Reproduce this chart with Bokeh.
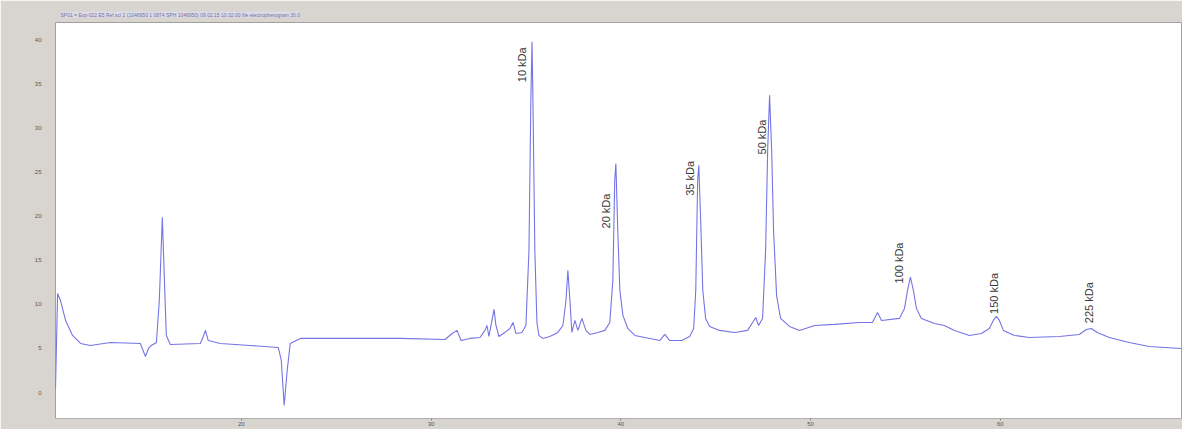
from bokeh.plotting import figure
from bokeh.models import ColumnDataSource, Range1d, FixedTicker, Title
from bokeh.core.properties import value
from bokeh.embed import file_html
from bokeh.resources import INLINE
import math

# migration time (s) and fluorescence signal
time = [10.21, 10.32, 10.47, 10.74, 11.11, 11.53, 12.05, 13.11, 14.68, 14.95, 15.11, 15.26, 15.53,
        15.68, 15.84, 15.95, 16.05, 16.26, 17.84, 18.0, 18.11, 18.26, 18.89, 20.47, 21.95, 22.11,
        22.26, 22.42, 22.58, 23.11, 25.74, 28.37, 30.74, 31.11, 31.37, 31.58, 32.05, 32.58, 32.84,
        32.95, 33.05, 33.21, 33.32, 33.42, 33.58, 33.89, 34.16, 34.32, 34.47, 34.79, 35.0, 35.16,
        35.26, 35.32, 35.37, 35.47, 35.58, 35.68, 35.89, 36.26, 36.68, 36.95, 37.11, 37.21, 37.32,
        37.42, 37.58, 37.74, 37.95, 38.16, 38.37, 38.79, 39.16, 39.42, 39.58, 39.68, 39.74, 39.84,
        39.95, 40.11, 40.37, 40.74, 41.53, 42.05, 42.32, 42.58, 43.21, 43.63, 43.84, 43.95, 44.05,
        44.11, 44.21, 44.32, 44.47, 44.68, 45.21, 46.0, 46.68, 46.95, 47.11, 47.26, 47.47, 47.63,
        47.74, 47.84, 47.95, 48.05, 48.21, 48.42, 48.89, 49.42, 50.21, 51.26, 52.58, 53.26, 53.53,
        53.74, 54.68, 54.95, 55.11, 55.26, 55.42, 55.58, 55.84, 56.53, 57.05, 57.58, 58.37, 59.0,
        59.42, 59.63, 59.79, 59.95, 60.16, 60.74, 61.53, 63.11, 64.16, 64.53, 64.79, 65.11, 65.74,
        66.79, 67.84, 69.53]
signal = [0.45, 11.25, 10.45, 8.18, 6.48, 5.57, 5.34, 5.68, 5.57, 4.09, 5.0, 5.34, 5.68,
          10.45, 19.89, 12.7, 6.48, 5.45, 5.57, 6.36, 7.05, 5.9, 5.57, 5.34, 5.11, 3.64,
          -1.48, 2.5, 5.57, 6.14, 6.14, 6.14, 6.02, 6.7, 7.05, 5.9, 6.14, 6.25, 7.05,
          7.61, 6.36, 8.18, 9.43, 7.61, 6.36, 6.82, 7.27, 7.95, 6.7, 6.82, 7.61, 16.1,
          33.2, 39.8, 33.2, 16.1, 7.95, 6.48, 6.14, 6.36, 6.82, 7.61, 10.45, 13.86, 10.45,
          6.82, 8.18, 7.05, 8.41, 7.05, 6.59, 6.82, 7.05, 7.95, 12.7, 24.1, 26.0, 18.4,
          11.6, 8.75, 7.27, 6.48, 6.14, 5.9, 6.59, 5.9, 5.9, 6.36, 7.27, 11.6, 24.1,
          25.8, 19.5, 11.6, 8.41, 7.5, 7.05, 6.82, 7.05, 7.95, 8.52, 7.61, 8.41, 16.1,
          27.5, 33.75, 27.5, 18.4, 11.0, 8.41, 7.5, 7.05, 7.61, 7.73, 7.95, 7.95, 9.09,
          8.18, 8.41, 9.55, 11.6, 13.1, 11.6, 9.55, 8.41, 7.84, 7.61, 7.05, 6.48, 6.7,
          7.27, 8.18, 8.64, 8.18, 7.05, 6.48, 6.25, 6.36, 6.59, 7.16, 7.27, 6.82, 6.25,
          5.68, 5.23, 5.0]

# ladder annotations
ladder_labels = ["10 kDa", "20 kDa", "35 kDa", "50 kDa", "100 kDa", "150 kDa", "225 kDa"]
ladder_time = [34.79, 39.21, 43.63, 47.42, 54.68, 59.68, 64.68]
ladder_signal = [37.2, 20.6, 24.3, 29.0, 14.7, 11.25, 10.2]

y_ticks = [0, 5, 10, 15, 20, 25, 30, 35, 40]
x_ticks = [20, 30, 40, 50, 60, 70]

p = figure(width=1182, height=429, output_backend="svg", toolbar_location=None,
           x_range=Range1d(10.21, 69.6), y_range=Range1d(-2.95, 42.0),
           min_border_left=55, min_border_right=0, min_border_top=22, min_border_bottom=11)
p.background_fill_color = "white"
p.border_fill_color = "#d8d5d0"
p.outline_line_color = "#a0a0a0"
p.xgrid.visible = False
p.ygrid.visible = False

p.line(time, signal, line_color="#7474e4", line_width=1.1)

src = ColumnDataSource(dict(x=ladder_time, y=ladder_signal, t=ladder_labels))
p.text(x="x", y="y", text="t", source=src, angle=math.pi / 2,
       text_align="center", text_baseline="middle",
       text_font=value("Liberation Sans"), text_font_size="11px", text_color="#3a3a3a")

p.yaxis.ticker = FixedTicker(ticks=y_ticks)
p.yaxis.major_label_text_font_size = "6px"
p.yaxis.major_label_text_color = "#555555"
p.yaxis.axis_line_color = None
p.yaxis.major_tick_line_color = None
p.yaxis.minor_tick_line_color = None
p.yaxis.major_label_standoff = 8

p.xaxis.ticker = FixedTicker(ticks=x_ticks)
p.xaxis.major_label_text_font_size = "6px"
p.xaxis.major_label_text_color = "#555555"
p.xaxis.axis_line_color = "#b0b0b0"
p.xaxis.major_tick_line_color = "#888888"
p.xaxis.major_tick_out = 2
p.xaxis.major_tick_in = 0
p.xaxis.minor_tick_line_color = None
p.xaxis.major_label_standoff = 1

t = Title(text="SP01 = Exp-022 E5 Ref.scl 2 (1046950 1 0874 SPH 1046950) 09.02.15 10:32:00 file electropherogram 30.0",
          text_font_size="5px", text_color="#7070a0", text_font_style="normal",
          background_fill_color="#dcdce8", offset=5)
p.add_layout(t, "above")

open("out.html", "w").write(file_html(p, INLINE))
